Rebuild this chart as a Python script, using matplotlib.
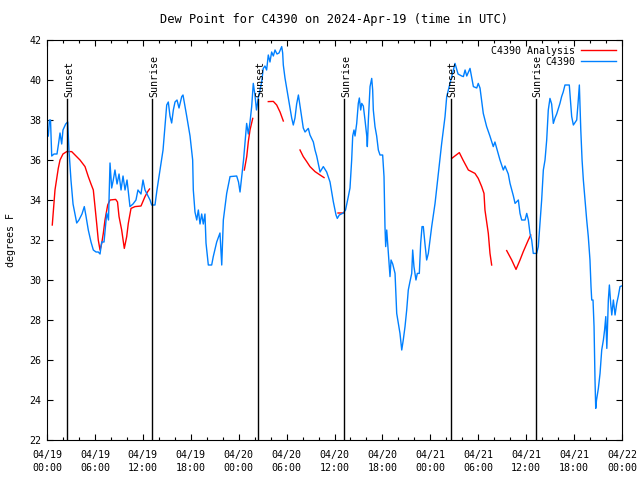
import numpy as np
import matplotlib
matplotlib.use('Agg')
import matplotlib.pyplot as plt
from matplotlib.ticker import MultipleLocator

# Hours since 2024-04-19 00:00 UTC and dew point (F).
blue_hours = [0.16, 0.31, 0.44, 0.59, 0.88, 1.25, 1.44, 1.63, 1.84, 2.0, 2.34, 2.59, 2.75, 3.0, 3.26, 3.72,
              4.0, 4.38, 4.67, 4.88, 5.17, 5.51, 5.80, 6.14, 6.42, 6.64, 6.85, 7.14, 7.48, 7.70, 7.89, 8.10,
              8.30, 8.51, 8.77, 9.02, 9.27, 9.52, 9.77, 10.02, 10.21, 10.39, 10.77, 11.14, 11.39, 11.77,
              12.02, 12.27, 12.52, 12.90, 13.11, 13.52, 13.77, 14.15, 14.53, 14.99, 15.19, 15.40, 15.61,
              15.82, 16.03, 16.28, 16.53, 16.87, 17.03, 17.49, 17.91, 18.24, 18.32, 18.53, 18.75, 18.95,
              19.16, 19.37, 19.57, 19.78, 19.91, 20.20, 20.62, 20.82, 21.25, 21.66, 21.88, 22.08, 22.50,
              22.92, 23.75, 23.98, 24.17, 24.36, 24.61, 24.79, 25.0, 25.21, 25.42, 25.63, 25.83, 26.04,
              26.23, 26.46, 26.67, 26.88, 27.08, 27.29, 27.50, 27.71, 27.92, 28.13, 28.34, 28.55, 28.80,
              29.05, 29.39, 29.51, 29.59, 29.80, 30.02, 30.22, 30.43, 30.64, 30.84, 31.05, 31.26, 31.48,
              31.68, 31.89, 32.09, 32.31, 32.72, 32.93, 33.35, 33.56, 33.77, 34.19, 34.60, 35.02, 35.44,
              35.65, 35.85, 36.19, 36.35, 36.60, 37.10, 37.38, 37.73, 37.94, 38.15, 38.28, 38.44, 38.57,
              38.78, 38.98, 39.11, 39.28, 39.41, 39.61, 39.82, 40.04, 40.11, 40.24, 40.45, 40.66, 40.78,
              40.86, 41.07, 41.28, 41.49, 41.70, 42.03, 42.20, 42.32, 42.41, 42.54, 42.74, 42.95, 43.08,
              43.29, 43.58, 43.79, 43.99, 44.20, 44.42, 44.61, 44.83, 45.04, 45.24, 45.45, 45.67, 45.79,
              45.95, 46.20, 46.37, 46.62, 46.79, 46.96, 47.12, 47.33, 47.54, 47.75, 47.96, 48.17, 48.59,
              49.0, 49.42, 49.84, 50.05, 50.46, 50.88, 51.09, 51.47, 51.93, 52.14, 52.35, 52.56, 52.97,
              53.39, 53.81, 54.0, 54.22, 54.63, 55.05, 55.46, 55.88, 56.09, 56.30, 56.72, 57.14, 57.35,
              57.76, 57.98, 58.40, 58.61, 59.02, 59.23, 59.44, 59.86, 60.07, 60.27, 60.48, 60.69, 60.89,
              61.31, 61.52, 61.73, 61.94, 62.15, 62.36, 62.57, 62.77, 62.98, 63.19, 63.40, 63.61, 63.82,
              64.23, 64.44, 64.64, 64.86, 65.40, 65.70, 65.91, 66.33, 66.49, 66.66, 66.84, 67.0, 67.16,
              67.37, 67.58, 67.78, 67.99, 68.12, 68.21, 68.37, 68.50, 68.62, 68.71, 68.81, 69.04, 69.25,
              69.46, 69.67, 69.82, 69.97, 70.10, 70.29, 70.42, 70.59, 70.72, 70.92, 71.13, 71.34, 71.54,
              71.75, 71.94]
blue_dewpt = [37.2, 38.0, 38.0, 36.2, 36.3, 36.3, 36.8, 37.35, 36.8, 37.5, 37.8, 37.9, 36.5, 35.0, 33.8, 32.85,
              33.0, 33.3, 33.67, 33.2, 32.5, 31.9, 31.5, 31.4, 31.4, 31.3, 31.9, 31.9, 33.35, 33.0, 35.85, 34.6,
              35.0, 35.5, 34.8, 35.3, 34.5, 35.2, 34.5, 35.0, 34.3, 33.67, 33.8, 34.0, 34.5, 34.3,
              35.0, 34.5, 34.3, 34.0, 33.75, 33.75, 34.5, 35.5, 36.5, 38.75, 38.9, 38.2, 37.85,
              38.5, 38.9, 39.0, 38.6, 39.17, 39.25, 38.2, 37.2, 36.0, 34.5, 33.4, 33.0, 33.5,
              32.8, 33.3, 32.8, 33.3, 31.85, 30.75, 30.75, 31.17, 31.9, 32.35, 30.75, 33.0, 34.33,
              35.17, 35.2, 34.9, 34.4, 35.1, 36.0, 36.83, 37.83, 37.3, 37.9, 38.67, 39.83, 39.25,
              38.5, 39.1, 39.5, 39.9, 40.58, 40.7, 40.5, 41.25, 40.9, 41.4, 41.2, 41.5, 41.3,
              41.35, 41.67, 41.35, 40.75, 40.1, 39.58, 39.1, 38.58, 38.1, 37.75, 38.1, 38.8, 39.25,
              38.7, 38.1, 37.6, 37.4, 37.58, 37.25, 36.9, 36.5, 36.2, 35.4, 35.67, 35.4, 34.9,
              34.4, 33.92, 33.25, 33.08, 33.25, 33.35, 33.5, 34.17, 34.6, 36.0, 37.2, 37.5, 37.2,
              37.83, 38.83, 39.1, 38.5, 38.83, 38.7, 38.0, 37.2, 36.67, 38.0, 39.67, 40.08, 39.5,
              38.5, 37.67, 37.2, 36.5, 36.25, 36.25, 35.17, 32.67, 31.67, 32.5, 31.33, 30.17, 31.0,
              30.8, 30.33, 28.33, 27.83, 27.33, 26.5, 27.0, 27.67, 28.5, 29.5, 29.92, 30.33, 31.5,
              30.67, 30.0, 30.33, 30.33, 31.83, 32.67, 32.67, 31.8, 31.0, 31.33, 32.0, 32.67, 33.83,
              35.33, 36.83, 38.17, 39.17, 39.83, 40.5, 40.83, 40.3, 40.2, 40.17, 40.5, 40.2, 40.58,
              39.67, 39.6, 39.83, 39.6, 38.33, 37.67, 37.2, 36.67, 36.9, 36.6, 36.0, 35.5, 35.7,
              35.3, 34.83, 34.2, 33.83, 34.0, 33.33, 33.0, 33.0, 33.33, 33.0, 32.33, 32.0, 31.33,
              31.33, 31.67, 32.8, 34.0, 35.5, 36.0, 37.0, 38.5, 39.08, 38.8, 37.83, 38.1, 38.3,
              38.83, 39.17, 39.4, 39.75, 39.75, 38.17, 37.75, 38.0, 38.8, 39.75, 37.5, 36.0, 35.0,
              34.0, 33.0, 32.17, 31.0, 29.67, 29.0, 29.0, 27.67, 25.0, 23.58, 24.0, 24.58, 25.33,
              26.5, 27.0, 27.5, 28.17, 26.58, 29.0, 29.75, 28.8, 28.25, 29.0, 28.25, 28.83, 29.2,
              29.67, 29.7]

# analysis series, nan marks gaps
red_hours = [0.66, 1.0, 1.41, 1.63, 2.0, 2.47, 3.09, 3.51, 4.13, 4.76, 5.17, 5.51, 5.80, 6.01, 6.22, 6.42,
             6.64, 6.85, 7.05, 7.26, 7.60, 7.89, 8.60, 8.83, 9.02, 9.35, 9.68, 9.98, 10.18, 10.52, 11.02,
             11.77, 12.27, 12.61, 12.84, 20.0,
             24.71, 25.01, 25.21, 25.42, 25.76, 26.5,
             27.71, 28.34, 28.76, 29.18, 29.59, 30.5,
             31.68, 32.09, 32.52, 32.93, 33.56, 34.19, 34.69, 35.5,
             36.44, 37.07, 40.0,
             50.68, 51.63, 52.09, 52.76, 53.59, 54.0, 54.43, 54.72, 54.84, 55.26, 55.47, 55.68, 56.5,
             57.56, 58.19, 58.73, 59.23, 59.64, 60.27, 60.57]
red_dewpt = [32.75, 34.5, 35.58, 36.0, 36.3, 36.42, 36.42, 36.25, 36.0, 35.67, 35.17, 34.8, 34.5, 33.67, 32.83, 32.0,
             31.5, 31.83, 32.33, 33.0, 33.75, 34.0, 34.03, 33.9, 33.17, 32.5, 31.58, 32.17, 32.83, 33.58, 33.67,
             33.7, 34.17, 34.42, 34.55, np.nan,
             35.5, 36.17, 36.92, 37.5, 38.08, np.nan,
             38.92, 38.93, 38.75, 38.4, 37.95, np.nan,
             36.5, 36.17, 35.92, 35.67, 35.42, 35.25, 35.12, np.nan,
             33.35, 33.35, np.nan,
             36.08, 36.37, 36.0, 35.5, 35.33, 35.08, 34.67, 34.33, 33.5, 32.33, 31.33, 30.75, np.nan,
             31.47, 31.0, 30.53, 31.0, 31.42, 32.0, 32.25]

sun_hours = [2.54, 13.19, 26.46, 37.23, 50.55, 61.20]
sun_labels = ['Sunset', 'Sunrise', 'Sunset', 'Sunrise', 'Sunset', 'Sunrise']

tick_hours = list(range(0, 73, 6))
tick_labels = ['04/19\n00:00', '04/19\n06:00', '04/19\n12:00', '04/19\n18:00',
               '04/20\n00:00', '04/20\n06:00', '04/20\n12:00', '04/20\n18:00',
               '04/21\n00:00', '04/21\n06:00', '04/21\n12:00', '04/21\n18:00',
               '04/22\n00:00']

plt.rcParams['font.family'] = 'DejaVu Sans Mono'
plt.rcParams['font.size'] = 7.2

fig = plt.figure(figsize=(6.4, 4.8), dpi=100)
ax = fig.add_axes([47/640, 40/480, 575/640, 400/480])

ax.plot(red_hours, red_dewpt, color='#ff0000', lw=1.0, label='C4390 Analysis')
ax.plot(blue_hours, blue_dewpt, color='#0080ff', lw=1.0, label='C4390')

for h, lab in zip(sun_hours, sun_labels):
    ax.plot([h, h], [22, 39.05], color='black', lw=1.0)
    ax.text(h + 0.25, 39.15, lab, rotation=90, ha='center', va='bottom')

ax.set_xlim(0, 72)
ax.set_ylim(22, 42)
ax.set_xticks(tick_hours)
ax.set_xticklabels(tick_labels, linespacing=1.45)
ax.xaxis.set_minor_locator(MultipleLocator(2))
ax.set_yticks(range(22, 43, 2))
ax.tick_params(which='both', direction='in', top=True, right=True, width=0.8)
ax.tick_params(which='major', length=4.5, pad=4)
ax.tick_params(axis='x', which='major', pad=7)
ax.tick_params(which='minor', length=2.2)
for s in ax.spines.values():
    s.set_linewidth(0.8)

ax.set_ylabel('degrees F', labelpad=10)
ax.set_title('Dew Point for C4390 on 2024-Apr-19 (time in UTC)', pad=12)

leg = ax.legend(loc='upper right', frameon=False, markerfirst=False, handlelength=3.5,
                borderaxespad=0.2, labelspacing=0.1, handletextpad=0.6)
for t in leg.get_texts():
    t.set_ha('right')

fig.savefig('out.png', dpi=100)
